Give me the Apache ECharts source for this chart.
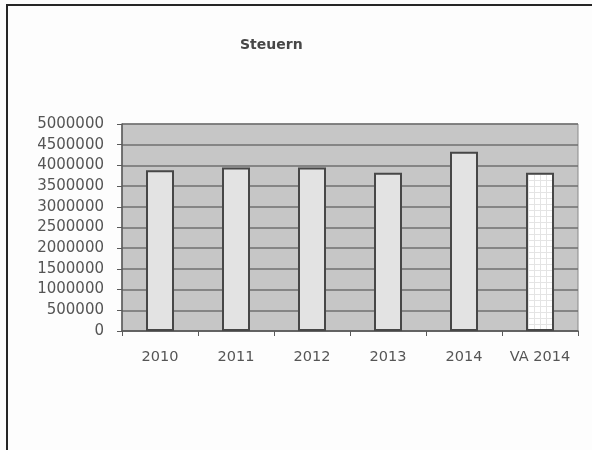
<!DOCTYPE html>
<html>
<head>
<meta charset="utf-8">
<script src="https://cdn.jsdelivr.net/npm/echarts@6/dist/echarts.min.js"></script>
<style>
  html, body { margin: 0; padding: 0; background: #fdfdfd; }
  #frame { position: absolute; left: 6px; top: 4px; width: 586px; height: 446px;
           border-top: 2px solid #262626; border-left: 2px solid #262626; }
  #chart { position: absolute; left: 0; top: 0; width: 592px; height: 450px; }
</style>
</head>
<body>
<div id="frame"></div>
<div id="chart"></div>
<script>
// Steuereinnahmen je Jahr, plus Voranschlag 2014
const categories = ['2010', '2011', '2012', '2013', '2014', 'VA 2014'];
const steuern = [3880000, 3950000, 3950000, 3820000, 4330000, 3820000];
const yTicks = { min: 0, max: 5000000, step: 500000 };

// Feines Karomuster für den Voranschlags-Balken
function gridPattern() {
  const c = document.createElement('canvas');
  c.width = 6; c.height = 6;
  const g = c.getContext('2d');
  g.fillStyle = '#ffffff';
  g.fillRect(0, 0, 6, 6);
  g.fillStyle = '#e4e4e4';
  g.fillRect(0, 0, 6, 1);
  g.fillRect(0, 0, 1, 6);
  return { image: c, repeat: 'repeat' };
}

const barData = steuern.map((v, i) => {
  const isBudget = categories[i].startsWith('VA');
  return {
    value: v,
    itemStyle: { color: isBudget ? gridPattern() : '#e3e3e3' }
  };
});

const chart = echarts.init(document.getElementById('chart'), null, { renderer: 'canvas' });
chart.setOption({
  animation: false,
  backgroundColor: 'transparent',
  title: {
    text: 'Steuern',
    left: 235, top: 33,
    textStyle: { fontFamily: 'DejaVu Sans', fontSize: 14, fontWeight: 'bold', color: '#474747' }
  },
  grid: {
    left: 122, right: 14, top: 124, bottom: 119,
    show: true, backgroundColor: '#c6c6c6', borderColor: '#8a8a8a', borderWidth: 1
  },
  xAxis: {
    type: 'category',
    data: categories,
    axisLine: { lineStyle: { color: '#5a5a5a', width: 1.5 } },
    axisTick: { show: true, interval: 0, length: 5, lineStyle: { color: '#5a5a5a' } },
    axisLabel: {
      interval: 0, hideOverlap: false,
      margin: 19, fontFamily: 'DejaVu Sans', fontSize: 14.5, color: '#555555'
    }
  },
  yAxis: {
    type: 'value',
    min: yTicks.min, max: yTicks.max, interval: yTicks.step,
    axisLine: { show: true, lineStyle: { color: '#5a5a5a', width: 1.5 } },
    axisTick: { show: true, length: 5, lineStyle: { color: '#5a5a5a' } },
    axisLabel: {
      margin: 18, fontFamily: 'DejaVu Sans', fontSize: 15, color: '#555555',
      formatter: v => String(v)
    },
    splitLine: { show: true, lineStyle: { color: '#6f6f6f', width: 1.5 } }
  },
  series: [{
    type: 'bar',
    data: barData,
    barWidth: 28,
    itemStyle: { borderColor: '#474747', borderWidth: 2 }
  }]
});
</script>
</body>
</html>
